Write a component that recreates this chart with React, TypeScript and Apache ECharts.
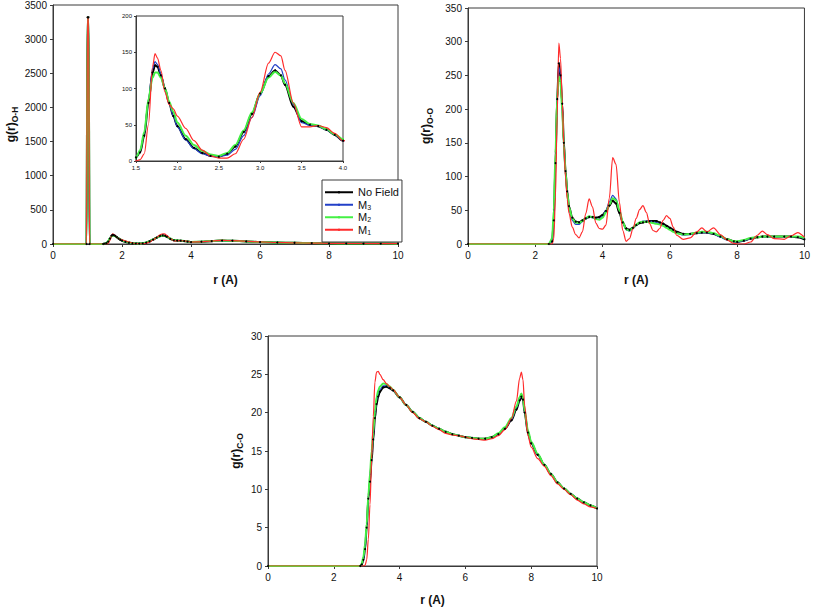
import React, { useEffect, useRef } from "react";
import * as echarts from "echarts";

// ---------- DATA ----------
const seriesNames = ["No Field", "M3", "M2", "M1"];

// Panel 1: g(r) O-H
const rOH = [0, 0.97, 1.0, 1.03, 1.06, 1.45, 1.5, 1.55, 1.6, 1.65, 1.7, 1.73, 1.76, 1.8, 1.85, 1.9, 1.95, 2.0, 2.1, 2.2, 2.3, 2.4, 2.5, 2.6, 2.7, 2.8, 2.9, 3.0, 3.1, 3.18, 3.25, 3.3, 3.4, 3.5, 3.6, 3.7, 3.8, 3.9, 4.0, 4.3, 4.6, 4.9, 5.2, 5.6, 6.0, 6.5, 7.0, 7.5, 8.0, 8.5, 9.0, 9.5, 10.0];
const ohNoField = [0, 0, 3320, 3320, 0, 0, 5, 12, 35, 80, 122, 132, 130, 118, 100, 80, 62, 48, 30, 18, 11, 7, 6, 10, 20, 40, 65, 93, 117, 125, 118, 105, 75, 55, 50, 48, 43, 36, 28, 33, 42, 50, 48, 38, 28, 22, 18, 13, 10, 8, 7, 6, 5];
const ohM3 = [0, 0, 3320, 3320, 0, 0, 5, 14, 38, 85, 127, 137, 133, 120, 100, 80, 62, 47, 29, 17, 10, 7, 6, 8, 16, 35, 60, 90, 120, 133, 127, 112, 78, 53, 49, 48, 43, 36, 28, 33, 42, 50, 48, 38, 28, 22, 18, 13, 10, 8, 7, 6, 5];
const ohM2 = [0, 0, 3320, 3320, 0, 0, 5, 15, 40, 85, 115, 122, 122, 115, 100, 82, 68, 53, 35, 22, 14, 9, 7, 11, 22, 42, 67, 93, 115, 123, 118, 107, 80, 58, 51, 49, 44, 37, 30, 34, 43, 50, 48, 38, 28, 22, 18, 13, 10, 8, 7, 6, 5];
const ohM1 = [0, 0, 3320, 3320, 0, 0, 0, 2, 10, 50, 130, 148, 142, 125, 95, 78, 72, 62, 45, 28, 15, 7, 4, 4, 10, 30, 60, 95, 135, 150, 145, 125, 80, 47, 47, 49, 46, 38, 28, 32, 44, 52, 50, 40, 30, 22, 17, 13, 10, 8, 7, 6, 5];

// Panel 2: g(r) O-O
const rOO = [0, 2.4, 2.5, 2.55, 2.6, 2.65, 2.7, 2.75, 2.8, 2.85, 2.9, 2.95, 3.0, 3.1, 3.2, 3.3, 3.4, 3.5, 3.6, 3.7, 3.8, 3.9, 4.0, 4.1, 4.2, 4.3, 4.4, 4.5, 4.6, 4.7, 4.8, 4.9, 5.0, 5.1, 5.2, 5.3, 5.4, 5.5, 5.6, 5.7, 5.8, 5.9, 6.0, 6.1, 6.2, 6.4, 6.6, 6.8, 6.95, 7.1, 7.3, 7.5, 7.7, 7.9, 8.0, 8.2, 8.4, 8.6, 8.75, 8.9, 9.1, 9.4, 9.6, 9.8, 10.0];
const ooNoField = [0, 0, 4, 35, 120, 215, 268, 250, 208, 150, 108, 78, 56, 39, 33, 32, 35, 38, 40, 40, 39, 40, 43, 49, 57, 64, 60, 46, 32, 23, 21, 24, 28, 31, 32, 33, 34, 34, 34, 32, 30, 27, 24, 21, 18, 15, 15, 16, 17, 17, 15, 11, 7, 4, 3, 5, 8, 10, 11, 11, 11, 11, 11, 10, 7];
const ooM3 = [0, 0, 4, 33, 118, 210, 262, 252, 205, 148, 104, 74, 52, 35, 29, 29, 33, 37, 40, 39, 37, 37, 41, 50, 62, 72, 67, 50, 32, 21, 19, 23, 28, 32, 34, 34, 34, 33, 32, 30, 28, 25, 22, 19, 16, 13, 14, 16, 17, 17, 15, 10, 6, 3, 3, 5, 8, 10, 11, 11, 11, 11, 11, 11, 8];
const ooM2 = [0, 0, 8, 50, 135, 215, 248, 240, 198, 146, 106, 76, 55, 38, 32, 31, 34, 38, 41, 40, 37, 36, 39, 47, 58, 68, 65, 50, 33, 22, 20, 24, 29, 32, 33, 33, 32, 31, 30, 29, 27, 24, 21, 18, 16, 14, 15, 17, 18, 18, 16, 12, 7, 4, 4, 6, 9, 10, 11, 11, 11, 11, 11, 11, 9];
const ooM1 = [0, 0, 0, 8, 70, 190, 298, 275, 215, 145, 98, 66, 46, 25, 14, 9, 18, 45, 67, 55, 31, 23, 22, 28, 68, 128, 118, 62, 20, 4, 8, 22, 38, 51, 57, 47, 30, 20, 18, 23, 35, 42, 38, 25, 13, 7, 9, 18, 24, 18, 24, 14, 6, 1, 0, 0, 3, 13, 19, 14, 8, 7, 12, 17, 10];

// Panel 3: g(r) C-O
const rCO = [0, 2.8, 2.85, 2.9, 2.95, 3.0, 3.05, 3.1, 3.15, 3.2, 3.25, 3.3, 3.35, 3.4, 3.5, 3.6, 3.7, 3.8, 4.0, 4.2, 4.4, 4.6, 4.8, 5.0, 5.2, 5.4, 5.6, 5.8, 6.0, 6.2, 6.4, 6.6, 6.8, 7.0, 7.2, 7.4, 7.55, 7.65, 7.7, 7.75, 7.8, 7.9, 8.0, 8.2, 8.4, 8.6, 8.8, 9.0, 9.2, 9.4, 9.6, 9.8, 10.0];
const coNoField = [0, 0, 0.2, 0.8, 2.2, 5, 8.8, 11, 13.8, 16.5, 19.3, 21.1, 22.1, 22.7, 23.3, 23.4, 23.2, 22.9, 22.0, 21.0, 20.1, 19.3, 18.8, 18.3, 17.9, 17.5, 17.2, 17.0, 16.8, 16.7, 16.6, 16.6, 16.8, 17.2, 17.9, 19.0, 20.4, 21.6, 22.1, 21.7, 20.0, 17.4, 16.0, 14.5, 13.2, 12.0, 10.9, 10.1, 9.4, 8.8, 8.3, 7.9, 7.5];
const coM3 = [0, 0, 0.2, 0.9, 2.4, 5.2, 9, 11.6, 14.4, 17, 19.8, 21.6, 22.5, 23.0, 23.5, 23.5, 23.3, 22.9, 22.0, 21.0, 20.1, 19.3, 18.8, 18.3, 17.9, 17.5, 17.2, 17.0, 16.8, 16.7, 16.6, 16.6, 16.8, 17.2, 18.0, 19.1, 20.6, 21.8, 22.4, 21.9, 20.1, 17.5, 16.1, 14.5, 13.2, 12.0, 10.9, 10.1, 9.4, 8.8, 8.3, 7.9, 7.5];
const coM2 = [0, 0, 0.3, 1.2, 2.8, 5.5, 9.2, 12, 15, 17.5, 20.2, 22.0, 22.9, 23.4, 23.8, 23.7, 23.4, 23.0, 22.0, 21.0, 20.1, 19.3, 18.8, 18.3, 17.9, 17.5, 17.2, 17.0, 16.8, 16.7, 16.6, 16.6, 16.8, 17.3, 18.1, 19.3, 20.8, 22.0, 22.5, 22.0, 20.3, 17.7, 16.2, 14.6, 13.2, 12.0, 10.9, 10.1, 9.4, 8.8, 8.3, 7.9, 7.5];
const coM1 = [0, 0, 0, 0, 0.1, 0.8, 3.5, 8, 14, 19.5, 24, 25.3, 25.4, 25.0, 24.3, 23.8, 23.4, 23.0, 22.0, 21.0, 20.0, 19.2, 18.8, 18.2, 17.8, 17.3, 17.1, 17.0, 16.8, 16.6, 16.5, 16.4, 16.6, 17.0, 17.8, 19.2, 21.5, 24.5, 25.3, 24.3, 21.0, 17.0, 15.5, 14.0, 13.0, 11.8, 10.7, 10.0, 9.3, 8.6, 8.1, 7.7, 7.5];

// Axis ticks
const rTicks = { min: 0, max: 10, interval: 2 };
const ohTicks = { min: 0, max: 3500, interval: 500 };
const ooTicks = { min: 0, max: 350, interval: 50 };
const coTicks = { min: 0, max: 30, interval: 5 };
const insetXTicks = { min: 1.5, max: 4.0, interval: 0.5 };
const insetYTicks = { min: 0, max: 200, interval: 50 };

// ---------- STYLE ----------
const FONT = "Liberation Sans";
const colors: Record<string, string> = {
  "No Field": "#000000",
  M3: "#2340c8",
  M2: "#44f044",
  M1: "#ff2b2b",
};
const widths: Record<string, number> = { "No Field": 2, M3: 1.2, M2: 2, M1: 1.2 };

function pairs(xs: number[], ys: number[]) {
  return xs.map((x, i) => [x, ys[i]]);
}

function makeSeries(name: string, xs: number[], ys: number[], idx: number) {
  const isBlack = name === "No Field";
  return {
    type: "line",
    name,
    xAxisIndex: idx,
    yAxisIndex: idx,
    data: pairs(xs, ys),
    smooth: 0.3,
    smoothMonotone: "x",
    clip: true,
    showSymbol: isBlack,
    symbol: isBlack ? "circle" : "none",
    symbolSize: 2,
    lineStyle: { color: colors[name], width: widths[name] },
    itemStyle: { color: colors[name] },
    emphasis: { disabled: true },
    silent: true,
  };
}

const axisColor = "#3a3a3a";
const plainNum = (v: number) => String(v);

function axisDef(idx: number, t: any, opts: any = {}) {
  return {
    type: "value",
    gridIndex: idx,
    min: t.min,
    max: t.max,
    interval: t.interval,
    axisLine: { show: true, onZero: false, lineStyle: { color: axisColor, width: 1 } },
    axisTick: { show: true, inside: false, length: 3, lineStyle: { color: axisColor } },
    splitLine: { show: false },
    axisLabel: { fontSize: 10, fontFamily: FONT, color: "#111", margin: 6, formatter: plainNum, ...(opts.axisLabel || {}) },
    ...opts.extra,
  };
}

const xNameStyle = { fontSize: 12, fontWeight: "bold", fontFamily: FONT, color: "#111" };
const yNameRich = {
  rich: {
    g: { fontSize: 12, fontWeight: "bold", fontFamily: FONT, color: "#111" },
    s: { fontSize: 8.5, fontWeight: "bold", fontFamily: FONT, color: "#111", padding: [7, 0, 0, 0] },
  },
};

export default function App() {
  const ref = useRef<HTMLDivElement>(null);
  useEffect(() => {
    if (!ref.current) return;
    const chart = echarts.init(ref.current, null, { renderer: "svg" });
    const gridBase = { show: true, borderColor: axisColor, borderWidth: 1, backgroundColor: "transparent" };
    const series: any[] = [];
    const oh = [ohNoField, ohM3, ohM2, ohM1];
    const oo = [ooNoField, ooM3, ooM2, ooM1];
    const co = [coNoField, coM3, coM2, coM1];
    seriesNames.forEach((n, i) => series.push(makeSeries(n, rOH, oh[i], 0)));
    seriesNames.forEach((n, i) => series.push(makeSeries(n, rOO, oo[i], 1)));
    seriesNames.forEach((n, i) => series.push(makeSeries(n, rCO, co[i], 2)));
    seriesNames.forEach((n, i) => series.push(makeSeries(n, rOH, oh[i], 3)));

    const option: any = {
      animation: false,
      backgroundColor: "#fff",
      grid: [
        { ...gridBase, left: 53, top: 5, width: 345, height: 239 },
        { ...gridBase, left: 468, top: 8, width: 338, height: 236 },
        { ...gridBase, left: 268, top: 336, width: 329, height: 230 },
        { ...gridBase, left: 136, top: 16, width: 207, height: 145, backgroundColor: "#fff" },
      ],
      xAxis: [
        axisDef(0, rTicks, { extra: { name: "r (A)", nameLocation: "middle", nameGap: 30, nameTextStyle: xNameStyle } }),
        axisDef(1, rTicks, { extra: { name: "r (A)", nameLocation: "middle", nameGap: 30, nameTextStyle: xNameStyle } }),
        axisDef(2, rTicks, { extra: { name: "r (A)", nameLocation: "middle", nameGap: 28, nameTextStyle: xNameStyle } }),
        axisDef(3, insetXTicks, {
          axisLabel: { fontSize: 6, margin: 4, formatter: (v: number) => v.toFixed(1) },
          extra: { axisTick: { show: true, length: 2, lineStyle: { color: axisColor } } },
        }),
      ],
      yAxis: [
        axisDef(0, ohTicks, { extra: { name: "{g|g(r)}{s|O-H}", nameLocation: "middle", nameGap: 34, nameRotate: 90, nameTextStyle: yNameRich } }),
        axisDef(1, ooTicks, { extra: { name: "{g|g(r)}{s|O-O}", nameLocation: "middle", nameGap: 34, nameRotate: 90, nameTextStyle: yNameRich } }),
        axisDef(2, coTicks, { extra: { name: "{g|g(r)}{s|C-O}", nameLocation: "middle", nameGap: 24, nameRotate: 90, nameTextStyle: yNameRich } }),
        axisDef(3, insetYTicks, {
          axisLabel: { fontSize: 6, margin: 4 },
          extra: { axisTick: { show: true, length: 2, lineStyle: { color: axisColor } } },
        }),
      ],
      legend: {
        data: seriesNames,
        orient: "vertical",
        left: 322,
        top: 180,
        padding: [6, 3, 6, 2],
        itemGap: 0,
        itemWidth: 28,
        itemHeight: 3,
        backgroundColor: "#fff",
        borderColor: axisColor,
        borderWidth: 1,
        borderRadius: 0,
        selectedMode: false,
        formatter: (name: string) => (name === "No Field" ? name : `{m|M}{s|${name.slice(1)}}`),
        textStyle: {
          fontSize: 11,
          fontFamily: FONT,
          color: "#111",
          lineHeight: 12.5,
          rich: {
            m: { fontSize: 11, fontFamily: FONT, color: "#111", lineHeight: 12.5 },
            s: { fontSize: 7, fontFamily: FONT, color: "#111", padding: [5, 0, 0, 0] },
          },
        },
        z: 10,
      },
      series,
    };
    chart.setOption(option);
    return () => chart.dispose();
  }, []);
  return (
    <div
      ref={ref}
      style={{ position: "fixed", left: 0, top: 0, width: 813, height: 607, background: "#fff" }}
    />
  );
}
